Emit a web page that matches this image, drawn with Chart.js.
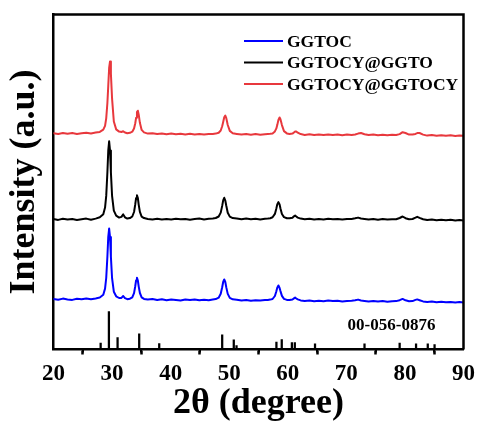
<!DOCTYPE html>
<html>
<head>
<meta charset="utf-8">
<title>XRD patterns</title>
<script src="https://cdn.jsdelivr.net/npm/chart.js@4.4.1/dist/chart.umd.min.js"></script>
<style>
  html, body { margin: 0; padding: 0; background: #fff; }
  #xrd { display: block; }
</style>
</head>
<body>
<canvas id="xrd" width="481" height="423"></canvas>
<script>
// 2θ sampling points, ten per row so the intensity rows line up
const twoTheta = [
  20, 20.8, 21.6, 22.4, 23.2, 24, 24.8, 25.6, 26.4, 27.2,
  27.9, 28.5, 28.8, 29.0, 29.2, 29.35, 29.5, 29.65, 29.8, 30.0,
  30.3, 30.7, 31.2, 31.6, 31.9, 32.2, 32.6, 33.05, 33.45, 33.75,
  33.95, 34.1, 34.25, 34.4, 34.55, 34.75, 35.05, 35.45, 36.1, 36.9,
  37.7, 38.5, 39.3, 40.1, 40.9, 41.7, 42.5, 43.3, 44.1, 44.9,
  45.7, 46.5, 47.2, 47.7, 48.2, 48.55, 48.8, 48.97, 49.15, 49.33,
  49.5, 49.75, 50.1, 50.6, 51.3, 52.1, 52.9, 53.7, 54.5, 55.3,
  56.1, 56.6, 57.0, 57.4, 57.8, 58.05, 58.2, 58.4, 58.6, 58.75,
  59.0, 59.35, 59.85, 60.3, 60.8, 61.05, 61.25, 61.45, 61.7, 62.2,
  62.9, 63.7, 64.5, 65.3, 66.1, 66.9, 67.7, 68.5, 69.3, 70.1,
  70.9, 71.5, 72.0, 72.5, 73.1, 73.8, 74.6, 75.4, 76.2, 77.0,
  77.8, 78.5, 79.1, 79.6, 80.1, 80.7, 81.3, 81.8, 82.1, 82.5,
  83.1, 83.8, 84.6, 85.4, 86.2, 87.0, 87.8, 88.6, 89.3, 90
];

// intensities (a.u.), curves already stacked with their offsets
const ggtoc = [
  50.6, 49.8, 50.9, 50.1, 49.6, 50.7, 50.2, 51.0, 50.3, 51.1,
  52.0, 54.8, 60.9, 71.5, 92.8, 112.7, 121.0, 112.5, 92.6, 71.3,
  57.8, 53.2, 51.5, 51.6, 53.5, 51.3, 50.3, 50.8, 52.2, 56.4,
  63.0, 69.2, 71.8, 69.0, 62.9, 56.5, 52.2, 50.6, 49.9, 50.4,
  49.5, 50.2, 49.3, 50.1, 49.6, 49.1, 50.0, 49.4, 49.9, 49.2,
  49.8, 49.3, 50.0, 50.4, 51.8, 55.7, 62.2, 67.5, 70.0, 67.6,
  62.1, 55.6, 51.6, 50.2, 49.8, 49.0, 49.5, 48.8, 49.3, 49.0,
  49.4, 49.6, 49.9, 50.5, 53.5, 58.3, 61.8, 64.0, 61.6, 58.4,
  53.6, 50.6, 49.6, 49.4, 50.0, 51.1, 51.9, 51.0, 50.1, 49.1,
  48.5, 49.0, 48.3, 48.8, 48.2, 48.9, 48.4, 48.7, 48.1, 48.6,
  48.8, 49.2, 49.9, 49.0, 48.5, 48.0, 48.6, 47.9, 48.4, 47.8,
  48.3, 48.4, 49.3, 50.6, 49.2, 48.3, 48.4, 49.6, 50.1, 49.3,
  48.1, 47.5, 48.0, 47.3, 47.8, 47.2, 47.6, 47.0, 47.4, 46.9
];

const ggtocyGgto = [
  130.4, 129.6, 130.7, 129.9, 130.5, 129.5, 130.3, 130.9, 129.8, 130.9,
  132.2, 135.3, 141.9, 153.6, 177.0, 198.8, 208.2, 198.9, 177.1, 153.7,
  138.9, 133.8, 131.9, 132.6, 135.1, 132.2, 130.9, 131.4, 133.0, 137.5,
  144.8, 151.4, 154.3, 151.5, 144.7, 137.6, 132.9, 131.4, 130.6, 130.0,
  130.7, 129.9, 130.5, 130.0, 130.8, 130.2, 130.6, 129.8, 130.4, 130.9,
  130.1, 130.7, 131.1, 131.5, 133.0, 136.9, 143.6, 149.1, 151.7, 149.0,
  143.7, 136.8, 132.9, 131.4, 130.9, 130.2, 130.9, 130.3, 130.8, 130.1,
  130.7, 131.0, 131.3, 132.2, 135.6, 141.1, 145.0, 147.4, 145.1, 141.0,
  135.5, 132.4, 131.2, 131.3, 131.8, 133.2, 134.0, 133.0, 131.9, 130.9,
  130.2, 130.8, 130.1, 130.6, 130.0, 130.7, 130.3, 130.5, 129.9, 130.6,
  130.5, 131.2, 131.9, 131.0, 130.6, 129.9, 130.5, 129.8, 130.4, 129.9,
  130.3, 130.2, 131.5, 133.0, 131.3, 130.2, 130.5, 131.8, 132.7, 131.6,
  130.2, 129.4, 130.0, 129.3, 129.8, 129.2, 129.7, 129.0, 129.5, 129.1
];

const ggtocyGgtocy = [
  216.3, 215.6, 216.6, 215.8, 216.4, 215.5, 216.2, 216.8, 215.9, 216.9,
  217.6, 219.8, 223.6, 231.2, 246.5, 263.6, 281.5, 288.1, 275.7, 250.8,
  228.0, 220.1, 217.9, 217.5, 218.2, 217.0, 216.2, 216.7, 217.8, 221.0,
  226.0, 231.7, 237.4, 238.8, 234.8, 226.7, 219.6, 217.1, 215.9, 216.3,
  215.5, 216.1, 215.3, 215.9, 215.2, 215.8, 215.1, 215.7, 215.0, 215.6,
  214.9, 215.5, 215.6, 215.9, 216.8, 219.0, 223.3, 227.5, 232.3, 234.0,
  231.4, 224.5, 218.6, 216.3, 215.6, 214.9, 215.5, 214.8, 215.4, 214.7,
  215.3, 215.5, 215.7, 216.1, 218.1, 221.1, 224.4, 229.5, 232.0, 230.3,
  224.4, 218.4, 216.1, 215.6, 215.9, 217.0, 217.9, 218.0, 216.8, 215.4,
  214.6, 215.2, 214.5, 215.0, 214.4, 215.1, 214.6, 215.0, 214.3, 214.9,
  214.5, 215.0, 215.9, 216.5, 215.3, 214.4, 214.9, 214.2, 214.8, 214.3,
  214.7, 214.5, 215.4, 217.3, 216.5, 214.9, 215.0, 215.6, 216.4, 216.5,
  214.9, 213.9, 214.4, 213.8, 214.3, 213.7, 214.2, 213.6, 214.0, 213.7
];

const seriesNames = ['GGTOC', 'GGTOCY@GGTO', 'GGTOCY@GGTOCY'];

// reference card stick pattern
const cardName = '00-056-0876';
const cardPos = [28.05, 29.46, 30.94, 34.63, 38.05, 48.8, 50.78, 51.25, 58.06, 58.97, 60.7, 61.2, 64.65, 73.1, 79.1, 81.9, 83.9, 85.06];
const cardHeight = [6.3, 38, 12, 15.7, 6, 14.7, 9.7, 4, 7.3, 10, 7, 7, 5.7, 5.7, 6.3, 5.7, 5.7, 5];

const xMajorTicks = [20, 30, 40, 50, 60, 70, 80, 90];
const xMinorTicks = [25, 35, 45, 55, 65, 75, 85];

const colors = ['#0000ff', '#000000', '#e8383d'];
const serif = "'Liberation Serif', 'Times New Roman', serif";

function toPoints(ys) {
  return twoTheta.map(function (x, i) { return { x: x, y: ys[i] }; });
}

// frame, minor ticks, legend and card label
const decorations = {
  id: 'decorations',
  afterDraw: function (chart) {
    const ctx = chart.ctx;
    const a = chart.chartArea;
    const xs = chart.scales.x;
    ctx.save();
    ctx.strokeStyle = '#000';
    ctx.lineWidth = 2.5;
    ctx.beginPath();
    ctx.moveTo(a.left - 1.25, a.top);
    ctx.lineTo(a.right, a.top);
    ctx.lineTo(a.right, a.bottom);
    ctx.stroke();

    ctx.lineWidth = 2;
    xMinorTicks.forEach(function (v) {
      const px = Math.round(xs.getPixelForValue(v));
      ctx.beginPath();
      ctx.moveTo(px, a.bottom);
      ctx.lineTo(px, a.bottom + 3);
      ctx.stroke();
    });

    // legend
    const lx = a.left + 190.5;
    ctx.font = 'bold 17.5px ' + serif;
    ctx.textBaseline = 'middle';
    ctx.textAlign = 'left';
    [26.5, 48, 69.5].forEach(function (dy, i) {
      const y = a.top + dy;
      ctx.strokeStyle = colors[i];
      ctx.lineWidth = 2;
      ctx.beginPath();
      ctx.moveTo(lx, y);
      ctx.lineTo(lx + 39, y);
      ctx.stroke();
      ctx.fillStyle = '#000';
      ctx.fillText(seriesNames[i], lx + 43, y + 1);
    });

    // card number above the sticks
    ctx.font = 'bold 17px ' + serif;
    ctx.textAlign = 'right';
    ctx.fillText(cardName, xs.getPixelForValue(85.2), chart.scales.y.getPixelForValue(24));
    ctx.restore();
  }
};

new Chart(document.getElementById('xrd'), {
  type: 'line',
  data: {
    datasets: [
      { label: seriesNames[0], data: toPoints(ggtoc), borderColor: colors[0] },
      { label: seriesNames[1], data: toPoints(ggtocyGgto), borderColor: colors[1] },
      { label: seriesNames[2], data: toPoints(ggtocyGgtocy), borderColor: colors[2] },
      {
        type: 'bar',
        label: cardName,
        data: cardPos.map(function (x, i) { return { x: x, y: cardHeight[i] }; }),
        backgroundColor: '#000',
        barThickness: 1.6,
        grouped: false
      }
    ]
  },
  options: {
    responsive: false,
    animation: false,
    devicePixelRatio: 1,
    layout: { padding: { left: 6.5, right: 17, top: 14.5, bottom: 11.5 } },
    elements: {
      line: { borderWidth: 2, tension: 0, borderJoinStyle: 'round', borderCapStyle: 'round' },
      point: { radius: 0 }
    },
    plugins: { legend: { display: false }, tooltip: { enabled: false } },
    scales: {
      x: {
        type: 'linear',
        min: 20,
        max: 90,
        offset: false,
        afterBuildTicks: function (scale) {
          scale.ticks = xMajorTicks.map(function (v) { return { value: v }; });
        },
        ticks: {
          color: '#000',
          padding: 6,
          maxRotation: 0,
          autoSkip: false,
          font: { family: serif, weight: 'bold', size: 23, lineHeight: '28px' }
        },
        grid: { drawOnChartArea: false, drawTicks: true, tickLength: 5, tickWidth: 2.5, tickColor: '#000' },
        border: { display: true, color: '#000', width: 2.5 },
        title: {
          display: true,
          text: '2θ (degree)',
          color: '#000',
          padding: { top: 1, bottom: 0 },
          font: { family: serif, weight: 'bold', size: 36, lineHeight: '16px' }
        }
      },
      y: {
        min: 0,
        max: 335,
        ticks: { display: false },
        grid: { display: false, drawTicks: false },
        border: { display: true, color: '#000', width: 2.5 },
        title: {
          display: true,
          text: 'Intensity (a.u.)',
          color: '#000',
          padding: { top: 0, bottom: 11 },
          font: { family: serif, weight: 'bold', size: 36, lineHeight: 1 }
        }
      }
    }
  },
  plugins: [decorations]
});
</script>
</body>
</html>
